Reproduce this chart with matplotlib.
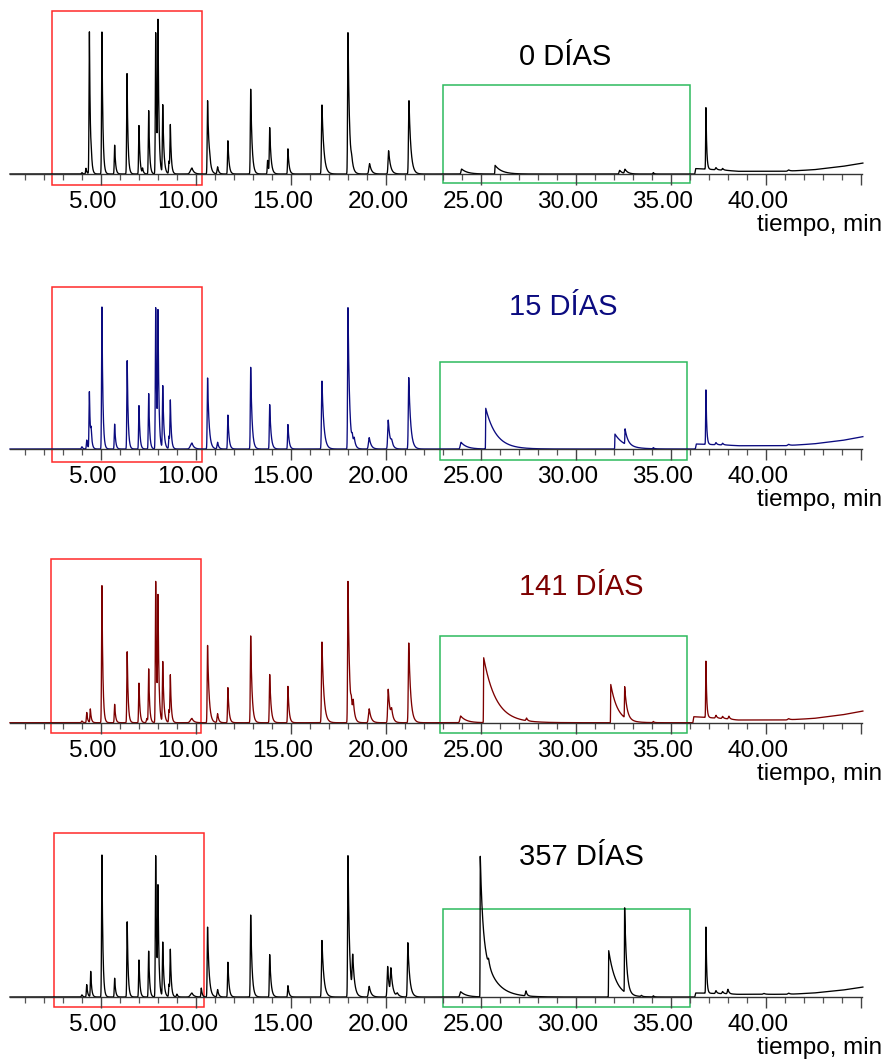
import numpy as np
import matplotlib
matplotlib.use("Agg")
import matplotlib.pyplot as plt
from matplotlib.patches import Rectangle
from matplotlib.transforms import ScaledTranslation

plt.rcParams['font.family'] = ['Liberation Sans', 'DejaVu Sans']

#datos -------------------------------------------------------------
# picos: tiempo de retencion (min), altura (% escala), anchura, cola
rt_0   = [4.0, 4.21, 4.39, 4.49, 5.05, 5.72, 6.37, 7.0, 7.19, 7.51, 7.88, 8.0, 8.25, 8.58, 8.65,
          9.79, 10.61, 10.72, 11.14, 11.68, 12.88, 13.77, 13.88, 14.84, 16.63, 18.0, 18.2, 19.14,
          20.14, 21.21, 23.98, 25.74, 32.3, 32.58, 34.07, 36.84, 37.37, 37.72, 41.2]
h_0    = [1.0, 4.0, 100, 6.0, 100, 20.4, 70.7, 34.3, 3.5, 44.6, 100, 100, 48.1, 9.0, 32.6,
          4.2, 51.6, 2.5, 5.0, 23.5, 60.0, 9.6, 31.7, 17.8, 48.6, 100, 5.0, 7.3,
          16.4, 51.6, 3.5, 6.1, 2.6, 3.0, 1.0, 43.7, 1.5, 1.2, 0.8]
w_0    = [0.03, 0.02, 0.02, 0.02, 0.02, 0.02, 0.02, 0.02, 0.02, 0.02, 0.02, 0.02, 0.02, 0.02, 0.02,
          0.08, 0.02, 0.03, 0.03, 0.02, 0.02, 0.02, 0.02, 0.02, 0.025, 0.02, 0.04, 0.04,
          0.03, 0.025, 0.03, 0.01, 0.03, 0.03, 0.02, 0.015, 0.03, 0.03, 0.05]
tail_0 = [0.05, 0.05, 0.05, 0.05, 0.05, 0.05, 0.05, 0.05, 0.05, 0.05, 0.05, 0.05, 0.06, 0.05, 0.05,
          0.1, 0.08, 0.05, 0.06, 0.06, 0.07, 0.05, 0.07, 0.06, 0.1, 0.08, 0.1, 0.1,
          0.1, 0.1, 0.3, 0.35, 0.15, 0.15, 0.05, 0.04, 0.06, 0.06, 0.08]
base_t_0 = [0.2, 36.25, 36.3, 36.7, 37.9, 38.5, 41.0, 42.5, 44.0, 45.1]
base_y_0 = [0.0, 0.0, 3.8, 3.5, 2.6, 1.9, 1.9, 3.0, 5.3, 7.7]

rt_1   = [4.0, 4.25, 4.39, 4.48, 5.05, 5.72, 6.38, 7.0, 7.51, 7.88, 8.0, 8.25, 8.58, 8.65,
          9.79, 10.61, 11.14, 11.68, 12.88, 13.88, 14.84, 16.63, 18.0, 18.23, 18.33, 19.12,
          20.12, 20.3, 21.2, 23.95, 25.25, 32.05, 32.58, 34.07, 36.84, 37.37, 37.72, 41.2]
h_1    = [1.6, 6.3, 40.0, 9.0, 100, 17.6, 62.5, 30.7, 39.0, 100, 89.2, 44.0, 9.0, 32.3,
          4.2, 50.0, 4.7, 24.0, 57.8, 31.4, 17.3, 47.8, 100, 5.5, 5.0, 8.0,
          20.4, 3.5, 50.4, 4.7, 28.6, 10.5, 10.7, 0.8, 38.7, 1.5, 1.2, 0.8]
w_1    = [0.03, 0.02, 0.02, 0.02, 0.02, 0.02, 0.02, 0.02, 0.02, 0.02, 0.02, 0.02, 0.02, 0.02,
          0.08, 0.02, 0.03, 0.02, 0.02, 0.02, 0.02, 0.025, 0.02, 0.03, 0.03, 0.04,
          0.03, 0.04, 0.025, 0.04, 0.008, 0.008, 0.01, 0.02, 0.015, 0.03, 0.03, 0.05]
tail_1 = [0.05, 0.05, 0.05, 0.05, 0.05, 0.05, 0.05, 0.05, 0.05, 0.05, 0.05, 0.06, 0.05, 0.05,
          0.1, 0.08, 0.06, 0.06, 0.07, 0.07, 0.06, 0.1, 0.08, 0.08, 0.08, 0.1,
          0.1, 0.08, 0.1, 0.3, 0.55, 0.5, 0.15, 0.05, 0.04, 0.06, 0.06, 0.08]
base_t_1 = [0.2, 36.28, 36.33, 36.7, 37.9, 38.5, 41.0, 42.5, 44.0, 45.1]
base_y_1 = [0.0, 0.0, 3.5, 3.3, 2.8, 2.3, 2.3, 3.6, 6.0, 8.7]

rt_2   = [4.0, 4.25, 4.44, 5.05, 5.72, 6.38, 7.0, 7.42, 7.51, 7.88, 8.0, 8.25, 8.58, 8.65,
          9.79, 10.61, 11.14, 11.68, 12.88, 13.88, 14.84, 16.63, 18.0, 18.18, 18.28, 19.12,
          20.12, 20.3, 21.2, 23.93, 25.14, 27.4, 31.83, 32.56, 34.07, 36.84, 37.37, 37.72,
          38.05, 41.2]
h_2    = [1.2, 7.2, 9.6, 96.5, 13.0, 50.2, 28.0, 3.0, 37.4, 100, 81.3, 42.5, 9.0, 31.5,
          3.0, 54.4, 6.3, 24.8, 61.4, 34.1, 25.7, 56.8, 100, 8.0, 11.0, 9.8,
          23.6, 6.5, 56.3, 4.7, 45.8, 1.9, 26.9, 22.0, 0.8, 40.0, 2.0, 1.5, 2.0, 0.8]
w_2    = [0.03, 0.02, 0.02, 0.02, 0.02, 0.02, 0.02, 0.03, 0.02, 0.02, 0.02, 0.02, 0.02, 0.02,
          0.08, 0.02, 0.03, 0.02, 0.02, 0.02, 0.02, 0.025, 0.02, 0.03, 0.03, 0.04,
          0.03, 0.04, 0.025, 0.04, 0.008, 0.03, 0.008, 0.01, 0.02, 0.015, 0.03, 0.03, 0.03, 0.05]
tail_2 = [0.05, 0.05, 0.05, 0.05, 0.05, 0.05, 0.05, 0.05, 0.05, 0.05, 0.05, 0.06, 0.05, 0.05,
          0.1, 0.08, 0.06, 0.06, 0.07, 0.07, 0.06, 0.1, 0.08, 0.08, 0.08, 0.1,
          0.1, 0.08, 0.1, 0.3, 0.65, 0.06, 0.37, 0.12, 0.05, 0.04, 0.06, 0.06, 0.06, 0.08]
base_t_2 = [0.2, 36.15, 36.2, 36.7, 37.9, 38.5, 41.0, 42.5, 44.0, 45.1]
base_y_2 = [0.0, 0.0, 4.2, 3.8, 2.8, 1.9, 1.9, 3.0, 5.5, 8.2]

rt_3   = [4.0, 4.25, 4.46, 5.05, 5.72, 6.38, 7.0, 7.51, 7.88, 8.0, 8.25, 8.58, 8.65, 9.0,
          9.79, 10.28, 10.61, 11.14, 11.68, 12.88, 13.88, 14.84, 16.63, 18.0, 18.25, 19.12,
          20.09, 20.26, 20.6, 21.15, 23.93, 24.96, 24.96, 25.4, 27.37, 31.72, 32.56, 33.45,
          34.07, 36.84, 37.37, 37.72, 38.0, 39.9, 41.2]
h_3    = [1.5, 8.7, 18.0, 100, 13.3, 53.2, 26.2, 32.3, 100, 70.0, 38.2, 9.0, 31.4, 2.0,
          2.8, 6.3, 49.2, 5.2, 24.6, 58.0, 30.0, 8.0, 39.8, 100, 25.8, 7.5,
          21.5, 18.0, 2.3, 38.2, 3.7, 55.0, 45.0, 4.0, 3.5, 32.8, 60.4, 0.8,
          0.8, 47.0, 2.0, 1.5, 3.2, 0.6, 0.8]
w_3    = [0.03, 0.02, 0.02, 0.02, 0.02, 0.02, 0.02, 0.02, 0.02, 0.02, 0.02, 0.02, 0.02, 0.03,
          0.08, 0.02, 0.02, 0.03, 0.02, 0.02, 0.02, 0.02, 0.025, 0.02, 0.03, 0.04,
          0.03, 0.03, 0.05, 0.025, 0.04, 0.008, 0.008, 0.03, 0.03, 0.008, 0.01, 0.03,
          0.02, 0.015, 0.03, 0.03, 0.03, 0.05, 0.05]
tail_3 = [0.05, 0.05, 0.05, 0.05, 0.05, 0.05, 0.05, 0.05, 0.05, 0.05, 0.06, 0.05, 0.05, 0.05,
          0.1, 0.05, 0.08, 0.06, 0.06, 0.07, 0.07, 0.06, 0.1, 0.08, 0.1, 0.1,
          0.08, 0.1, 0.1, 0.1, 0.3, 0.12, 0.6, 0.08, 0.06, 0.38, 0.1, 0.05,
          0.05, 0.04, 0.06, 0.06, 0.06, 0.08, 0.08]
base_t_3 = [0.2, 36.25, 36.3, 36.7, 37.9, 38.5, 41.2, 42.5, 44.0, 45.1]
base_y_3 = [0.0, 0.0, 2.8, 2.7, 2.3, 1.9, 1.9, 2.8, 4.8, 7.0]

titulos  = ["0 DÍAS", "15 DÍAS", "141 DÍAS", "357 DÍAS"]
colores  = ["black", "#0b0b80", "#7d0000", "black"]
tick_val = [5, 10, 15, 20, 25, 30, 35, 40, 45]
tick_lab = ["5.00", "10.00", "15.00", "20.00", "25.00", "30.00", "35.00", "40.00", ""]

picos  = [(rt_0, h_0, w_0, tail_0), (rt_1, h_1, w_1, tail_1),
          (rt_2, h_2, w_2, tail_2), (rt_3, h_3, w_3, tail_3)]
lineas = [(base_t_0, base_y_0), (base_t_1, base_y_1), (base_t_2, base_y_2), (base_t_3, base_y_3)]

#layout (pixel) ----------------------------------------------------
W, H = 891, 1061
linea_base = [174, 449, 722.7, 997]          # y pixel of time axis
pos_titulo = [(565, 57), (563, 307), (581, 587), (581, 857)]
caja_roja  = [(2.42, 10.32, 114.8, -7.7), (2.42, 10.32, 114.0, -9.2),
              (2.37, 10.26, 115.0, -7.3), (2.53, 10.42, 115.5, -7.0)]
caja_verde = [(23.0, 36.0, 62.7, -6.3), (22.84, 35.84, 61.3, -7.7),
              (22.84, 35.84, 61.0, -7.3), (23.0, 36.0, 62.0, -7.0)]

PX = 100.0 / 142.0     # y units per pixel
t = np.arange(0.21, 45.1, 0.004)


def senal(rt, h, w, tail, bt, by):
    y = np.interp(t, bt, by)
    for t0, hh, s, tau in zip(rt, h, w, tail):
        d = t - t0
        forma = np.where(d < 0, np.exp(-0.5 * (d / s) ** 2), np.exp(-np.clip(d, 0, None) / tau))
        y = y + hh * forma
    return y


fig = plt.figure(figsize=(W / 100, H / 100), dpi=100)

for i in range(4):
    b = linea_base[i]
    top_px, bot_px = b - 185, b + 45
    ax = fig.add_axes([0, (H - bot_px) / H, 1, (bot_px - top_px) / H])
    ax.set_xlim(-6 / 19, (W - 6) / 19)
    ax.set_ylim(-45 * PX, 185 * PX)
    ax.patch.set_alpha(0)

    for s in ["top", "right", "left"]:
        ax.spines[s].set_visible(False)
    ax.spines["bottom"].set_position(("data", 0))
    ax.spines["bottom"].set_bounds(0.21, 45.05)
    ax.spines["bottom"].set_color("#333333")
    ax.spines["bottom"].set_linewidth(1.0)
    ax.set_yticks([])

    ax.set_xticks(tick_val)
    ax.set_xticklabels(tick_lab, fontsize=17.5)
    ax.set_xticks([m for m in range(1, 46) if m % 5 != 0], minor=True)
    ax.tick_params(which="major", direction="out", length=8, width=1.0, color="#444444", pad=4.5)
    ax.tick_params(which="minor", direction="out", length=4.3, width=0.9, color="#555555")
    for lbl in ax.get_xticklabels():
        lbl.set_transform(lbl.get_transform() + ScaledTranslation(-8 / 100, 0, fig.dpi_scale_trans))

    rt, h, w, tail = picos[i]
    bt, by = lineas[i]
    ax.plot(t, senal(rt, h, w, tail, bt, by), color=colores[i], linewidth=0.95)

    x0, x1, y1, y0 = caja_roja[i]
    ax.add_patch(Rectangle((x0, y0), x1 - x0, y1 - y0, fill=False, edgecolor="#ff2a2a",
                           linewidth=1.1, clip_on=False))
    x0, x1, y1, y0 = caja_verde[i]
    ax.add_patch(Rectangle((x0, y0), x1 - x0, y1 - y0, fill=False, edgecolor="#2dba5e",
                           linewidth=1.1, clip_on=False))

    fig.text(pos_titulo[i][0] / W, 1 - pos_titulo[i][1] / H, titulos[i], fontsize=21,
             color=colores[i], ha="center", va="center")
    fig.text(882 / W, 1 - (b + 51) / H, "tiempo, min", fontsize=17.5, ha="right", va="center")

fig.savefig("out.png", dpi=100)
